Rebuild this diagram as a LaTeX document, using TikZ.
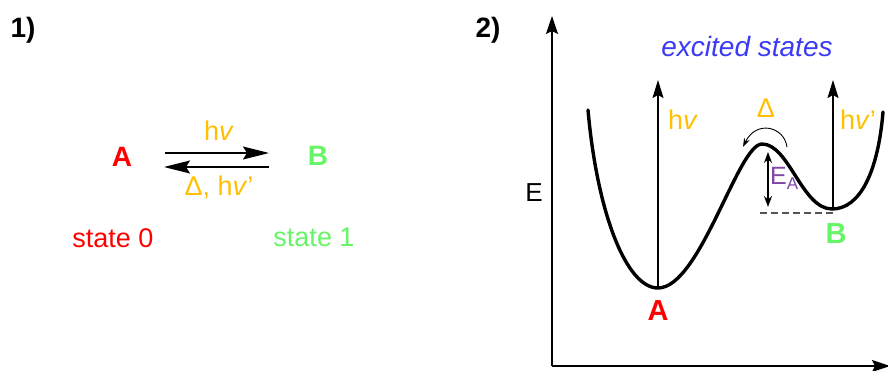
\documentclass[tikz,border=0pt]{standalone}
\usepackage{fontspec}
\setmainfont{Liberation Sans}
\usetikzlibrary{arrows.meta}
\definecolor{cred}{HTML}{FF0000}
\definecolor{cgreen}{HTML}{66F566}
\definecolor{corange}{HTML}{FFC000}
\definecolor{cblue}{HTML}{3B3BF5}
\definecolor{cpurple}{HTML}{8045A5}
\definecolor{cgray}{HTML}{555555}
\begin{document}
\begin{tikzpicture}[x=1pt,y=-1pt,
  lbl/.style={inner sep=0pt, font=\fontsize{27}{30}\selectfont},
  big/.style={inner sep=0pt, font=\fontsize{28}{30}\selectfont\bfseries},
  arr/.style={line width=1.4pt, -{Stealth[length=18pt,width=11pt,inset=3pt]}},
  eqarr/.style={line width=1.6pt, -{Stealth[length=26pt,width=13pt,inset=4pt]}},
  axis/.style={line width=1.8pt, -{Stealth[length=18pt,width=12pt,inset=3pt]}},
  well/.style={line width=3.4pt, line cap=round},
]
\useasboundingbox (0,0) rectangle (888,371);

% ---------- part 1 ----------
\node[big] (n1) at (23,30) {1)};
\node[big, text=cred] (lA) at (122,157) {A};
\node[big, text=cgreen] (lB) at (318,156) {B};
\node[lbl, text=cred] (s0) at (113,238) {state 0};
\node[lbl, text=cgreen] (s1) at (314,237) {state 1};
\coordinate (la1) at (165,153);
\coordinate (la2) at (269,153);
\coordinate (lb1) at (269,167);
\coordinate (lb2) at (164,167);
\draw[eqarr] (la1) -- (la2);
\draw[eqarr] (lb1) -- (lb2);
\node[lbl, text=corange] (hv1) at (219,131) {h\textit{v}};
\node[lbl, text=corange] (dhv) at (219,187) {Δ, h\textit{v}'};

% ---------- part 2 ----------
\node[big] (n2) at (488,30) {2)};
\coordinate (org) at (552,366);
\coordinate (ytop) at (552,16);
\coordinate (xend) at (890,366);
\draw[axis] (org) -- (ytop);
\draw[axis] (org) -- (xend);
\node[inner sep=0pt, font=\fontsize{26}{28}\selectfont] (E) at (534,193) {E};
\node[inner sep=0pt, font=\fontsize{28}{30}\selectfont\itshape, text=cblue] (exc) at (747,47) {excited states};

% potential curve
\coordinate (p0) at (588,110);
\coordinate (mA) at (658,288);
\coordinate (ts) at (762,144);
\coordinate (mB) at (832,209);
\coordinate (p4) at (883,112);
\draw[well] (p0) .. controls (597,212) and (626,288) .. (mA)
  .. controls (700,288) and (738,144) .. (ts)
  .. controls (789,144) and (802,209) .. (mB)
  .. controls (860,209) and (878,172) .. (p4);

% excitation arrows
\coordinate (tA) at (658,80);
\coordinate (tB) at (833,80);
\draw[arr] (mA) -- (tA);
\draw[arr] ([xshift=1pt]mB) -- (tB);
\node[lbl, text=corange] (hv2) at (683,120) {h\textit{v}};
\node[lbl, text=corange] (hv3) at (858,120) {h\textit{v}'};

% thermal arrow
\coordinate (c1) at (787,147);
\coordinate (c2) at (743,147);
\draw[line width=0.9pt, -{Stealth[length=9pt,width=6pt]}] (c1) .. controls (784,126) and (756,120) .. (c2);
\node[inner sep=0pt, font=\fontsize{27}{29}\selectfont, text=corange] (dl) at (766,108) {Δ};

% activation energy
\coordinate (e1) at (768,152);
\coordinate (e2) at (768,207);
\draw[line width=1.4pt, {Stealth[length=11pt,width=8pt]}-{Stealth[length=11pt,width=8pt]}] (e1) -- (e2);
\node[inner sep=0pt, anchor=base west, font=\fontsize{25}{27}\selectfont, text=cpurple] (EA) at (770,185) {E\raisebox{-5pt}{\fontsize{17}{18}\selectfont A}};
\coordinate (d1) at (760,213);
\coordinate (d2) at (833,213);
\draw[cgray, line width=1.5pt, dash pattern=on 7pt off 4pt] (d1) -- (d2);

\node[big, font=\fontsize{29}{30}\selectfont\bfseries, text=cgreen] (rB) at (836,234) {B};
\node[big, font=\fontsize{29}{30}\selectfont\bfseries, text=cred] (rA) at (658,311) {A};
\end{tikzpicture}
\end{document}
